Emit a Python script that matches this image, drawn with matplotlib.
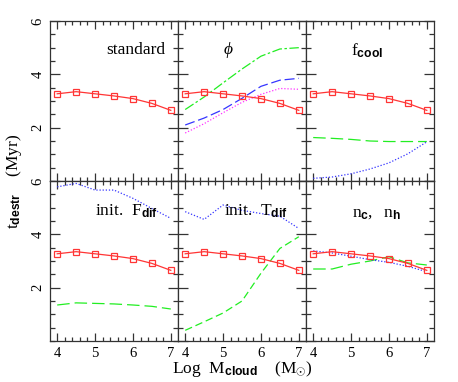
import numpy as np
import matplotlib
matplotlib.use("Agg")
import matplotlib.pyplot as plt
from matplotlib.ticker import MultipleLocator

plt.rcParams['font.family'] = ['Liberation Serif', 'DejaVu Serif']
plt.rcParams['mathtext.fontset'] = 'custom'
plt.rcParams['mathtext.rm'] = 'Liberation Serif'
plt.rcParams['mathtext.it'] = 'Liberation Serif:italic'
plt.rcParams['mathtext.sf'] = 'Liberation Sans:bold'

logm = [4.0, 4.5, 5.0, 5.5, 6.0, 6.5, 7.0]
standard = [3.27, 3.35, 3.27, 3.19, 3.09, 2.91, 2.65]

phi_green = [2.68, 3.15, 3.68, 4.2, 4.68, 4.95, 5.0]
phi_blue = [2.1, 2.36, 2.68, 3.1, 3.55, 3.78, 3.85]
phi_magenta = [1.8, 2.15, 2.56, 2.95, 3.25, 3.47, 3.44]

fcool_green = [1.63, 1.6, 1.56, 1.5, 1.48, 1.48, 1.48]
fcool_blue = [0.1, 0.15, 0.27, 0.45, 0.68, 1.02, 1.47]

fdif_green = [1.35, 1.43, 1.41, 1.39, 1.35, 1.3, 1.2]
fdif_blue = [5.78, 5.91, 5.66, 5.66, 5.35, 4.97, 4.6]

tdif_green = [0.4, 0.72, 1.05, 1.5, 2.54, 3.47, 3.91]
tdif_blue = [4.85, 4.56, 5.1, 4.9, 4.78, 4.68, 4.22]

nc_green = [2.7, 2.7, 2.88, 3.0, 3.16, 2.93, 2.85]
nc_blue = [3.38, 3.3, 3.18, 3.05, 2.95, 2.8, 2.6]

RED = '#ff3535'
GREEN = '#22ee22'
BLUE = '#3535ff'
MAG = '#ff33ff'

fig = plt.figure(figsize=(4.58, 3.82), dpi=100)
L, R, T, B = 50/458, 434/458, 1-21/382, 1-341/382
W = (R-L)/3
H = (T-B)/2

labels = [r'standard', r'$\it{\phi}$', r'$\mathrm{f}_{\mathsf{cool}}$',
          r'init.  $\mathrm{F}_{\mathsf{dif}}$', r'init.  $\mathrm{T}_{\mathsf{dif}}$',
          r'$\mathrm{n}_{\mathsf{c}},\ \ \mathrm{n}_{\mathsf{h}}$']
label_pos = [(6.85, 4.9, 'right'), (5.0, 4.9, 'left'), (5.0, 4.9, 'left'),
             (5.0, 4.85, 'left'), (5.03, 4.85, 'left'), (5.03, 4.8, 'left')]

axes = []
for r in range(2):
    for c in range(3):
        ax = fig.add_axes([L + c*W, B + (1-r)*H, W, H])
        ax.set_xlim(3.81, 7.19)
        ax.set_ylim(0, 6)
        ax.xaxis.set_major_locator(MultipleLocator(1))
        ax.xaxis.set_minor_locator(MultipleLocator(0.2))
        ax.yaxis.set_major_locator(MultipleLocator(2))
        ax.yaxis.set_minor_locator(MultipleLocator(0.5))
        ax.tick_params(which='both', direction='in', top=True, right=True,
                       color='#333333', width=0.9, labelsize=10.5, pad=4)
        ax.tick_params(axis='x', which='major', length=5.5)
        ax.tick_params(axis='x', which='minor', length=2.8)
        ax.tick_params(axis='y', which='major', length=7.5)
        ax.tick_params(axis='y', which='minor', length=3.8)
        for s in ax.spines.values():
            s.set_color('#333333')
            s.set_linewidth(0.9)
        if r == 0:
            ax.set_xticklabels([])
        if c != 0:
            ax.set_yticklabels([])
        else:
            ax.set_yticks([2, 4, 6])
            for t in ax.get_yticklabels():
                t.set_rotation(90)
                t.set_va('center')
        ax.plot(logm, standard, color=RED, lw=0.9, marker='s', ms=4.5,
                mfc='none', mec=RED, mew=0.9, zorder=3)
        x, y, ha = label_pos[r*3+c]
        ax.text(x, y, labels[r*3+c], ha=ha, va='center', fontsize=12.5)
        axes.append(ax)

a = axes
a[1].plot(logm, phi_green, color=GREEN, lw=0.9, dashes=(8, 2, 2, 2))
a[1].plot(logm, phi_blue, color=BLUE, lw=0.9, dashes=(8, 3))
a[1].plot(logm, phi_magenta, color=MAG, lw=0.9, dashes=(1, 1.5))

a[2].plot(logm, fcool_green, color=GREEN, lw=0.9, dashes=(10, 4))
a[2].plot(logm, fcool_blue, color=BLUE, lw=0.9, dashes=(1, 1.5))

a[3].plot(logm, fdif_green, color=GREEN, lw=0.9, dashes=(10, 4))
a[3].plot(logm, fdif_blue, color=BLUE, lw=0.9, dashes=(1, 1.5))

a[4].plot(logm, tdif_green, color=GREEN, lw=0.9, dashes=(6, 3))
a[4].plot(logm, tdif_blue, color=BLUE, lw=0.9, dashes=(1, 1.5))

a[5].plot(logm, nc_green, color=GREEN, lw=0.9, dashes=(10, 4))
a[5].plot(logm, nc_blue, color=BLUE, lw=0.9, dashes=(1, 1.5))

fig.text(0.5 + (L+R-1)/2, 0.035, r'Log  $\mathrm{M}_{\mathsf{cloud}}$    $(\mathrm{M}_{\odot})$',
         ha='center', va='center', fontsize=12.5)
fig.text(0.03, (T+B)/2, r'$\mathrm{t}_{\mathsf{destr}}$    (Myr)', rotation=90,
         ha='center', va='center', fontsize=12.5)

fig.savefig('out.png', dpi=100)
